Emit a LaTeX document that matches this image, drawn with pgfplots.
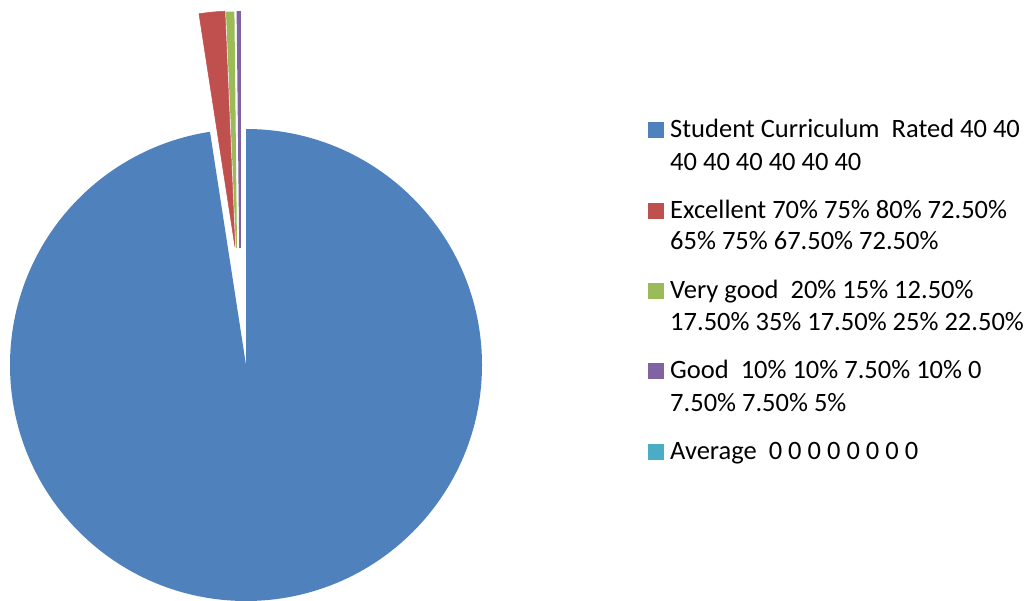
\documentclass[border=0pt]{standalone}
\usepackage{pgfplots}
\pgfplotsset{compat=1.18}
\usepackage{pgfplotstable}
\usepackage{fontspec}
\setmainfont{Carlito}
\definecolor{cBlue}{HTML}{4F81BD}
\definecolor{cRed}{HTML}{C0504D}
\definecolor{cGreen}{HTML}{9BBB59}
\definecolor{cPurple}{HTML}{8064A2}
\definecolor{cCyan}{HTML}{4BACC6}
% values: sum of the eight ratings per category (percent values as fractions)
\pgfplotstableread{
cat      value   dx     dy
Student  320     0      0
Excel    5.775   -11    118
VGood    1.65    -9.5   117
Good     0.575   -6     117
Average  0       0      0
}\piedata
\begin{document}
\begin{tikzpicture}
\pgfplotstablegetelem{0}{value}\of\piedata \let\vA\pgfplotsretval
\pgfplotstablegetelem{1}{value}\of\piedata \let\vB\pgfplotsretval
\pgfplotstablegetelem{2}{value}\of\piedata \let\vC\pgfplotsretval
\pgfplotstablegetelem{3}{value}\of\piedata \let\vD\pgfplotsretval
\pgfplotstablegetelem{1}{dx}\of\piedata \let\xB\pgfplotsretval
\pgfplotstablegetelem{1}{dy}\of\piedata \let\yB\pgfplotsretval
\pgfplotstablegetelem{2}{dx}\of\piedata \let\xC\pgfplotsretval
\pgfplotstablegetelem{2}{dy}\of\piedata \let\yC\pgfplotsretval
\pgfplotstablegetelem{3}{dx}\of\piedata \let\xD\pgfplotsretval
\pgfplotstablegetelem{3}{dy}\of\piedata \let\yD\pgfplotsretval
\pgfmathsetmacro\tot{\vA+\vB+\vC+\vD}
\pgfmathsetmacro\aA{90-360*(\vA/\tot)}
\pgfmathsetmacro\aB{\aA+360-360*(\vB/\tot)}
\pgfmathsetmacro\aC{\aB-360*(\vC/\tot)}
\pgfmathsetmacro\aD{\aC-360*(\vD/\tot)}
\def\R{236}
\def\cx{246}
\def\cy{235}
\begin{axis}[
  x=1pt, y=1pt,
  xmin=0, xmax=1028, ymin=0, ymax=600,
  hide axis, clip=true,
  scale only axis,
]
\path (axis cs:0,0) rectangle (axis cs:1028,600);
% blue slice
\fill[cBlue] (axis cs:\cx,\cy) -- ++(90:\R pt) arc[start angle=90, end angle=\aA, radius=\R pt] -- cycle;
% exploded slices
\fill[cRed, draw=cRed, line width=0.5pt] (axis cs:\cx+\xB,\cy+\yB) -- ++(\aA+360:\R pt) arc[start angle=\aA+360, end angle=\aB, radius=\R pt] -- cycle;
\fill[cGreen, draw=cGreen, line width=1pt] (axis cs:\cx+\xC,\cy+\yC) -- ++(\aB:\R pt) arc[start angle=\aB, end angle=\aC, radius=\R pt] -- cycle;
\fill[cPurple, draw=cPurple, line width=1.6pt] (axis cs:\cx+\xD,\cy+\yD) -- ++(\aC:\R pt) arc[start angle=\aC, end angle=\aD, radius=\R pt] -- cycle;
% legend squares
\addplot[only marks, mark=square*, mark size=7.5pt, cBlue] coordinates {(655.5,470)};
\addplot[only marks, mark=square*, mark size=7.5pt, cRed] coordinates {(655.5,389.5)};
\addplot[only marks, mark=square*, mark size=7.5pt, cGreen] coordinates {(655.5,309.5)};
\addplot[only marks, mark=square*, mark size=7.5pt, cPurple] coordinates {(655.5,229)};
\addplot[only marks, mark=square*, mark size=7.5pt, cCyan] coordinates {(655.5,148.5)};
% legend text
\tikzset{lt/.style={anchor=base west, inner sep=0pt, font=\fontsize{26.5}{32}\selectfont, text=black}}
\node[lt] at (axis cs:670,462) {Student Curriculum\ \ Rated 40 40};
\node[lt] at (axis cs:670,429) {40 40 40 40 40 40};
\node[lt] at (axis cs:670,381.7) {Excellent 70\% 75\% 80\% 72.50\%};
\node[lt] at (axis cs:670,350) {65\% 75\% 67.50\% 72.50\%};
\node[lt] at (axis cs:670,301.7) {Very good\ \ 20\% 15\% 12.50\%};
\node[lt] at (axis cs:670,269) {17.50\% 35\% 17.50\% 25\% 22.50\%};
\node[lt] at (axis cs:670,221.7) {Good\ \ 10\% 10\% 7.50\% 10\% 0};
\node[lt] at (axis cs:670,188.3) {7.50\% 7.50\% 5\%};
\node[lt] at (axis cs:670,140.7) {Average\ \ 0 0 0 0 0 0 0 0};
\end{axis}
\end{tikzpicture}
\end{document}
